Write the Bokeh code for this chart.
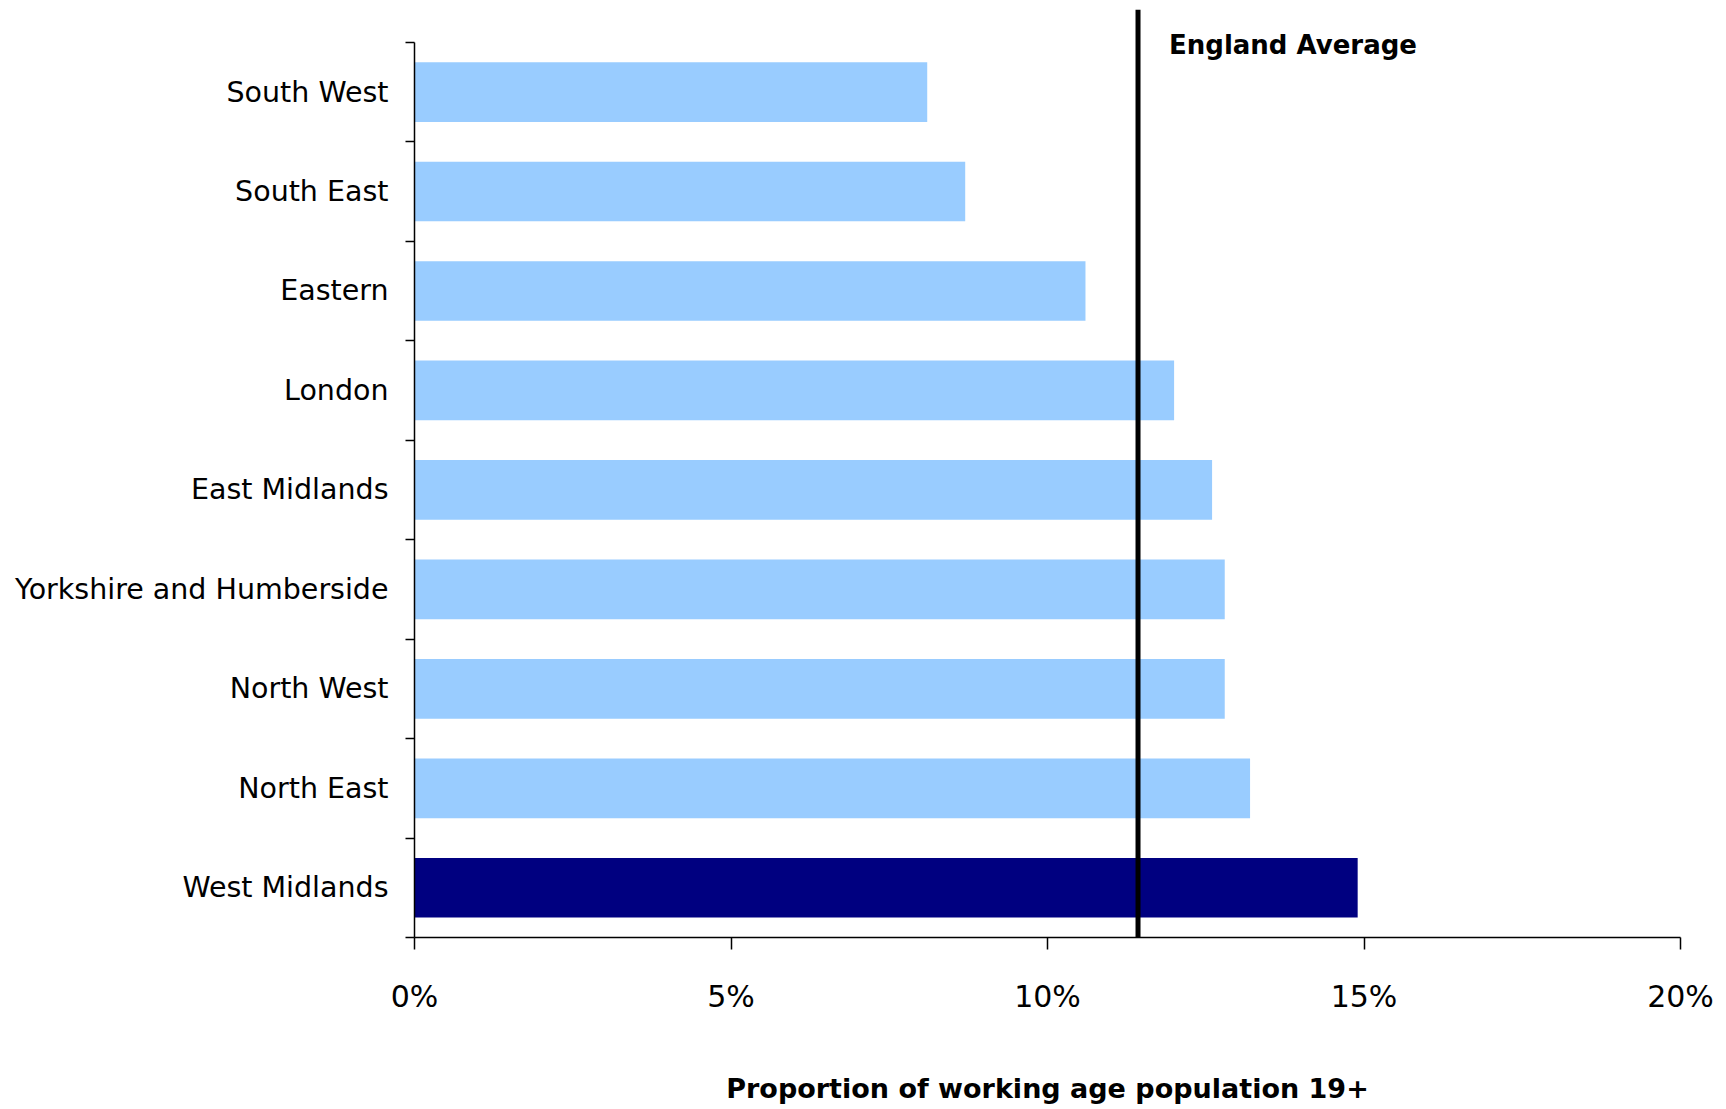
from bokeh.plotting import figure
from bokeh.models import Range1d, FixedTicker, Span, Label, ColumnDataSource
from bokeh.embed import file_html
from bokeh.resources import INLINE

# ---- data (top to bottom as shown) ----
regions = ["South West", "South East", "Eastern", "London", "East Midlands",
           "Yorkshire and Humberside", "North West", "North East", "West Midlands"]
values = [8.1, 8.7, 10.6, 12.0, 12.6, 12.8, 12.8, 13.2, 14.9]
highlight = "West Midlands"
england_average = 11.43
x_ticks = [0, 5, 10, 15, 20]
x_tick_labels = ["0%", "5%", "10%", "15%", "20%"]
x_title = "Proportion of working age population 19+"
avg_label = "England Average"

n = len(regions)
ypos = [n - i - 0.5 for i in range(n)]
colors = ["#000080" if r == highlight else "#99CCFF" for r in regions]
src = ColumnDataSource(dict(region=regions, value=values, y=ypos, color=colors))

FONT = "DejaVu Sans"

p = figure(width=1718, height=1107, output_backend="svg", toolbar_location=None,
           x_range=Range1d(0, 20), y_range=Range1d(0, 9.33),
           min_border_left=414, min_border_right=38, min_border_top=9,
           min_border_bottom=170)
p.outline_line_color = None
p.xgrid.visible = False
p.ygrid.visible = False
p.background_fill_color = "white"
p.border_fill_color = "white"

p.hbar(y="y", right="value", left=0, height=0.6, color="color", line_color=None, source=src)

p.add_layout(Span(location=england_average, dimension="height", line_color="black", line_width=5))
p.add_layout(Label(x=england_average, y=8.97, x_offset=31, text=avg_label,
                   text_font=FONT, text_font_style="bold", text_font_size="26px",
                   text_baseline="middle", text_color="black"))

# x axis
xa = p.xaxis[0]
xa.ticker = FixedTicker(ticks=x_ticks, minor_ticks=[])
xa.major_label_overrides = {t: l for t, l in zip(x_ticks, x_tick_labels)}
xa.major_tick_out = 12
xa.major_tick_in = 0
xa.minor_tick_out = 0
xa.axis_line_width = 1.5
xa.axis_line_color = "black"
xa.major_tick_line_width = 1.5
xa.major_tick_line_color = "black"
xa.major_label_text_font = FONT
xa.major_label_text_font_size = "30px"
xa.major_label_text_color = "black"
xa.major_label_standoff = 29
xa.axis_label = x_title
xa.axis_label_text_font = FONT
xa.axis_label_text_font_style = "bold"
xa.axis_label_text_font_size = "27px"
xa.axis_label_text_color = "black"
xa.axis_label_standoff = 56

# y axis
ya = p.yaxis[0]
ya.ticker = FixedTicker(ticks=ypos, minor_ticks=list(range(n + 1)))
ya.major_label_overrides = {y: r for y, r in zip(ypos, regions)}
ya.bounds = (0, n)
ya.major_tick_out = 0
ya.major_tick_in = 0
ya.minor_tick_out = 9
ya.minor_tick_in = 0
ya.axis_line_width = 1.5
ya.axis_line_color = "black"
ya.minor_tick_line_width = 1.5
ya.minor_tick_line_color = "black"
ya.major_label_text_font = FONT
ya.major_label_text_font_size = "28.5px"
ya.major_label_text_color = "black"
ya.major_label_standoff = 17

open("out.html", "w").write(file_html(p, INLINE))
